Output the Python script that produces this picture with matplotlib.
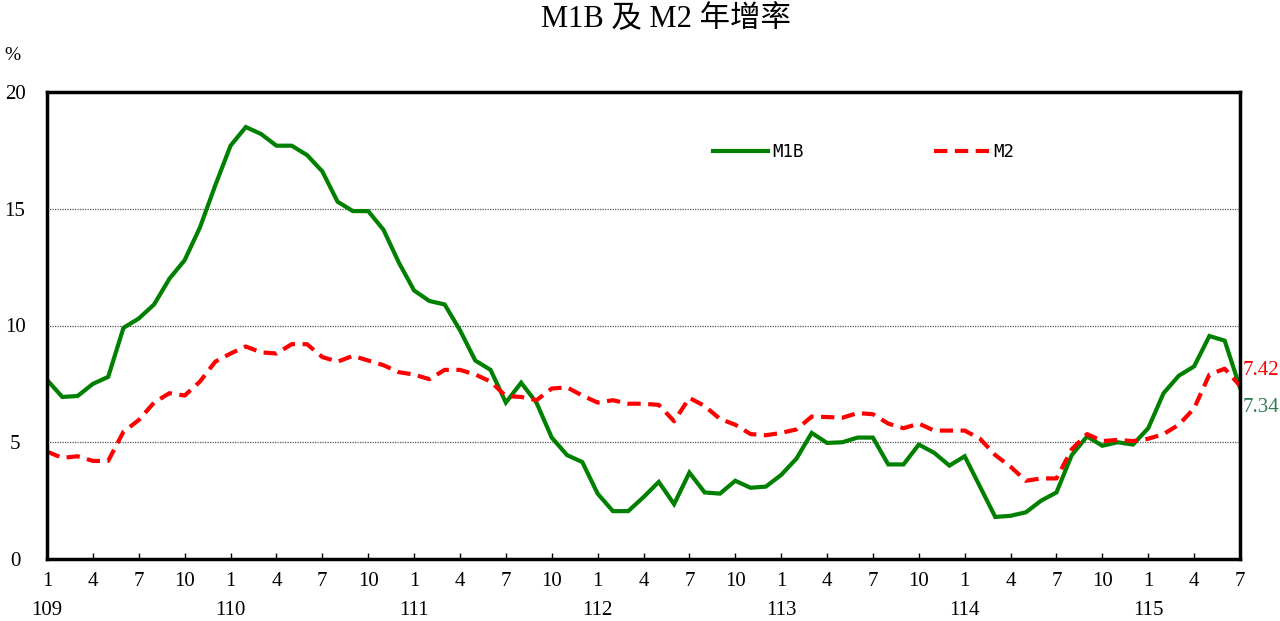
import matplotlib
matplotlib.use("Agg")
import matplotlib.pyplot as plt
import matplotlib.transforms as mtransforms
import numpy as np

plt.rcParams['font.family'] = ['Liberation Serif', 'Noto Sans CJK TC']

# monthly data, 109/1 .. 115/7 (ROC years)
m1b = [7.67, 6.94, 6.98, 7.5, 7.8, 9.9, 10.3, 10.9, 12.0, 12.8, 14.2, 16.0,
       17.7, 18.5, 18.2, 17.7, 17.7, 17.3, 16.6, 15.3, 14.9, 14.9, 14.1, 12.7,
       11.5, 11.05, 10.9, 9.8, 8.5, 8.1, 6.7, 7.55, 6.7, 5.2, 4.45, 4.15,
       2.8, 2.05, 2.05, 2.65, 3.3, 2.35, 3.7, 2.85, 2.8, 3.35, 3.05, 3.1,
       3.6, 4.3, 5.4, 4.97, 5.0, 5.2, 5.2, 4.05, 4.05, 4.9, 4.55, 4.0,
       4.4, 3.1, 1.8, 1.85, 2.0, 2.5, 2.85, 4.45, 5.25, 4.85, 5.0, 4.9,
       5.6, 7.1, 7.85, 8.25, 9.55, 9.35, 7.34]
m2 = [4.6, 4.33, 4.4, 4.2, 4.2, 5.45, 5.95, 6.7, 7.1, 7.0, 7.6, 8.45,
      8.8, 9.1, 8.85, 8.8, 9.2, 9.2, 8.65, 8.45, 8.7, 8.5, 8.3, 8.0,
      7.9, 7.7, 8.1, 8.1, 7.9, 7.6, 6.98, 6.94, 6.8, 7.3, 7.35, 7.0,
      6.7, 6.8, 6.65, 6.65, 6.6, 5.9, 6.9, 6.55, 6.0, 5.75, 5.35, 5.3,
      5.4, 5.55, 6.1, 6.08, 6.05, 6.25, 6.2, 5.8, 5.6, 5.8, 5.5, 5.5,
      5.5, 5.15, 4.45, 3.95, 3.35, 3.45, 3.45, 4.7, 5.35, 5.05, 5.1, 5.05,
      5.15, 5.35, 5.75, 6.45, 7.9, 8.15, 7.42]
years = ['109', '110', '111', '112', '113', '114', '115']
month_ticks = ['1', '4', '7', '10']

x = np.arange(len(m1b))

fig = plt.figure(figsize=(12.8, 6.21), dpi=100)
ax = fig.add_axes([47/1280, 1-559/621, (1240-47)/1280, (559-92)/621])

ax.plot(x, m1b, color='#008000', lw=3.0, label='M1B', solid_joinstyle='miter')
ax.plot(x, m2, color='#ff0000', lw=3.0, ls=(0, (3.2, 1.8)), label='M2')

ax.set_xlim(0, len(m1b)-1)
ax.set_ylim(0, 20)
ax.set_yticks([0, 5, 10, 15, 20])
for g in [5, 10, 15]:
    ax.axhline(g, color='#555555', lw=0.9, ls=(0, (1, 1)), zorder=0)

ax.set_xticks(x[::3])
ax.set_xticklabels([month_ticks[i % 4] for i in range(len(x[::3]))])
ax.tick_params(axis='x', direction='in', length=4, width=1, pad=9, labelsize=15)
ax.tick_params(axis='y', length=0, pad=23, labelsize=15)
for lab in ax.get_yticklabels():
    lab.set_horizontalalignment('center')

for sp in ax.spines.values():
    sp.set_linewidth(2.5)

trans = mtransforms.blended_transform_factory(ax.transData, ax.transAxes)
for i, yr in enumerate(years):
    ax.text(i*12, -0.11, yr, transform=trans, ha='center', va='center', fontsize=15)

# end values
ax.annotate(f'{m2[-1]:.2f}', (x[-1], m2[-1]), xytext=(2, 11), textcoords='offset points',
            ha='left', va='center', color='#ff0000', fontsize=15, annotation_clip=False)
ax.annotate(f'{m1b[-1]:.2f}', (x[-1], m1b[-1]), xytext=(2, -14), textcoords='offset points',
            ha='left', va='center', color='#2e7d4f', fontsize=15, annotation_clip=False)

leg = ax.legend(ncol=2, loc='center left', bbox_to_anchor=(0.545, 0.871), frameon=False,
                handlelength=3.16, handletextpad=0.25, columnspacing=7.5,
                prop={'family': 'DejaVu Sans Mono', 'size': 12.5})

fig.text(0.52, 1-20/621, 'M1B 及 M2 年增率', ha='center', va='center', fontsize=22)
fig.text(12/1280, 1-55/621, '%', ha='center', va='center', fontsize=14)

fig.savefig('out.png', dpi=100)
